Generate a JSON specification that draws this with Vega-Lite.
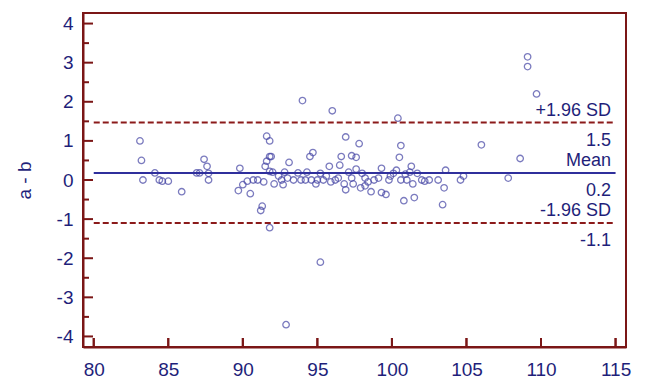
{
  "$schema": "https://vega.github.io/schema/vega-lite/v6.json",
  "width": 543,
  "height": 334,
  "autosize": {"type": "none"},
  "padding": {"left": 83, "top": 13, "right": 20, "bottom": 35},
  "background": "white",
  "config": {
    "view": {"stroke": "#7b1616", "strokeWidth": 2},
    "font": "Liberation Sans",
    "axis": {"grid": false, "ticks": false, "domainColor": "#7b1616", "domainWidth": 2, "labelColor": "#1f1f7a", "labelFont": "Liberation Sans", "labelFontSize": 19, "titleFont": "Liberation Sans", "titleFontSize": 19, "titleColor": "#1f1f7a", "titleFontWeight": "normal"}
  },
  "datasets": {
    "pts": [
      {"a":83.1,"d":1.0},{"a":83.2,"d":0.5},{"a":83.3,"d":0.0},{"a":84.1,"d":0.18},{"a":84.4,"d":0.0},{"a":84.6,"d":-0.03},{"a":85.0,"d":-0.03},{"a":85.9,"d":-0.3},{"a":86.9,"d":0.18},{"a":87.1,"d":0.18},{"a":87.4,"d":0.53},{"a":87.6,"d":0.35},{"a":87.7,"d":0.17},{"a":87.7,"d":0.0},
      {"a":89.7,"d":-0.27},{"a":89.8,"d":0.3},{"a":90.0,"d":-0.12},{"a":90.3,"d":-0.03},{"a":90.5,"d":-0.35},{"a":90.7,"d":0.0},{"a":91.0,"d":0.0},{"a":91.2,"d":-0.78},{"a":91.3,"d":-0.67},{"a":91.6,"d":1.12},{"a":91.8,"d":1.0},{"a":91.8,"d":-1.22},{"a":91.5,"d":0.35},{"a":91.6,"d":0.48},{"a":91.8,"d":0.6},{"a":91.9,"d":0.6},{"a":91.4,"d":-0.05},{"a":91.8,"d":0.22},{"a":92.1,"d":-0.1},{"a":92.0,"d":0.2},{"a":92.4,"d":0.1},{"a":92.7,"d":-0.12},{"a":92.8,"d":0.2},{"a":93.1,"d":0.45},{"a":92.9,"d":-3.7},{"a":92.6,"d":0.0},
      {"a":93.4,"d":0.0},{"a":93.7,"d":0.18},{"a":93.9,"d":0.0},{"a":94.0,"d":2.03},{"a":94.2,"d":0.0},{"a":94.3,"d":0.2},{"a":94.5,"d":0.6},{"a":94.7,"d":0.7},{"a":94.6,"d":0.0},{"a":95.0,"d":0.0},{"a":95.2,"d":-2.1},{"a":95.2,"d":0.17},{"a":95.4,"d":0.0},{"a":95.6,"d":0.1},{"a":95.8,"d":0.35},{"a":96.0,"d":1.77},{"a":96.2,"d":0.0},{"a":96.5,"d":0.38},{"a":96.6,"d":0.6},{"a":96.9,"d":1.1},{"a":96.9,"d":-0.25},{"a":97.1,"d":0.2},{"a":97.3,"d":0.62},{"a":97.4,"d":-0.1},{"a":97.6,"d":0.58},{"a":97.6,"d":0.28},{"a":97.8,"d":0.93},{"a":97.9,"d":-0.2},{"a":98.0,"d":0.17},{"a":98.2,"d":0.05},{"a":98.6,"d":-0.3},{"a":98.8,"d":0.0},{"a":99.1,"d":0.05},{"a":99.3,"d":0.3},{"a":99.3,"d":-0.32},{"a":99.6,"d":-0.37},{"a":99.8,"d":0.0},{"a":100.1,"d":0.17},{"a":100.4,"d":1.58},{"a":100.5,"d":0.58},{"a":100.6,"d":0.88},{"a":100.6,"d":0.0},{"a":100.8,"d":-0.53},{"a":101.0,"d":0.0},{"a":101.2,"d":0.2},{"a":101.4,"d":-0.1},{"a":101.5,"d":-0.45},{"a":101.7,"d":0.17},{"a":101.3,"d":0.35},{"a":100.3,"d":0.25},{"a":102.0,"d":0.0},{"a":102.5,"d":0.0},{"a":103.1,"d":0.0},{"a":103.5,"d":-0.2},{"a":103.4,"d":-0.63},{"a":103.6,"d":0.25},{"a":104.6,"d":0.0},{"a":104.8,"d":0.1},{"a":106.0,"d":0.9},{"a":107.8,"d":0.05},{"a":108.6,"d":0.55},{"a":109.1,"d":3.15},{"a":109.1,"d":2.9},{"a":109.7,"d":2.2},
      {"a":93.0,"d":0.05},{"a":96.4,"d":0.05},{"a":97.3,"d":0.05},{"a":98.4,"d":-0.05},{"a":99.9,"d":0.1},{"a":100.9,"d":0.15},{"a":102.2,"d":-0.03},{"a":95.9,"d":-0.05},{"a":94.9,"d":-0.1},{"a":96.8,"d":-0.1},{"a":98.2,"d":-0.15}
    ],
    "lines": [
      {"kind":"limit","v":1.47,"top":"+1.96 SD","bottom":"1.5"},
      {"kind":"mean","v":0.18,"top":"Mean","bottom":"0.2"},
      {"kind":"limit","v":-1.1,"top":"-1.96 SD","bottom":"-1.1"}
    ],
    "xticks": [{"xt":80},{"xt":85},{"xt":90},{"xt":95},{"xt":100},{"xt":105},{"xt":110},{"xt":115}],
    "ymajor": [{"t":-4},{"t":-3},{"t":-2},{"t":-1},{"t":0},{"t":1},{"t":2},{"t":3},{"t":4}],
    "yminor": [{"t":-3.5},{"t":-2.5},{"t":-1.5},{"t":-0.5},{"t":0.5},{"t":1.5},{"t":2.5},{"t":3.5}]
  },
  "layer": [
    {
      "data": {"name": "pts"},
      "mark": {"type": "point", "shape": "circle", "filled": false, "size": 42, "strokeWidth": 1.3, "color": "#4444a4"},
      "encoding": {
        "x": {"field": "a", "type": "quantitative", "scale": {"domain": [79.28, 115.7], "nice": false, "zero": false},
          "axis": {"values": [80,85,90,95,100,105,110,115], "labelPadding": 13, "title": null}},
        "y": {"field": "d", "type": "quantitative", "scale": {"domain": [-4.27, 4.27], "nice": false, "zero": false},
          "axis": {"values": [-4,-3,-2,-1,0,1,2,3,4],
            "labelExpr": "replace(datum.label, '\u2212', '-')",
            "labelPadding": 10,
            "title": "a - b", "titleAngle": -90, "titleX": -59, "titleY": 167, "titleAlign": "center", "titleBaseline": "middle"}}
      }
    },
    {
      "data": {"name": "xticks"},
      "mark": {"type": "rule", "color": "#7b1616", "strokeWidth": 2},
      "encoding": {"x": {"field": "xt", "type": "quantitative"}, "y": {"datum": -4.04, "type": "quantitative"}, "y2": {"datum": -4.27}}
    },
    {
      "data": {"name": "xticks"},
      "mark": {"type": "tick", "orient": "vertical", "color": "#7b1616", "thickness": 2, "size": 9, "yOffset": -4.5, "opacity": 1},
      "encoding": {"x": {"field": "xt", "type": "quantitative"}, "y": {"value": {"expr": "height"}}}
    },
    {
      "data": {"name": "ymajor"},
      "mark": {"type": "tick", "orient": "horizontal", "color": "#7b1616", "thickness": 2, "size": 10, "xOffset": 5, "opacity": 1},
      "encoding": {"y": {"field": "t", "type": "quantitative"}, "x": {"datum": 79.28}}
    },
    {
      "data": {"name": "yminor"},
      "mark": {"type": "tick", "orient": "horizontal", "color": "#7b1616", "thickness": 2, "size": 6, "xOffset": 3, "opacity": 1},
      "encoding": {"y": {"field": "t", "type": "quantitative"}, "x": {"datum": 79.28}}
    },
    {
      "data": {"name": "lines"},
      "transform": [{"filter": "datum.kind === 'limit'"}],
      "mark": {"type": "rule", "color": "#8b1a1a", "strokeWidth": 2, "strokeDash": [6, 3]},
      "encoding": {"y": {"field": "v", "type": "quantitative"}, "x": {"datum": 80}, "x2": {"datum": 115}}
    },
    {
      "data": {"name": "lines"},
      "transform": [{"filter": "datum.kind === 'mean'"}],
      "mark": {"type": "rule", "color": "#2f2f9c", "strokeWidth": 2},
      "encoding": {"y": {"field": "v", "type": "quantitative"}, "x": {"datum": 80}, "x2": {"datum": 115}}
    },
    {
      "data": {"name": "lines"},
      "mark": {"type": "text", "align": "right", "baseline": "alphabetic", "dy": -7, "fontSize": 18, "color": "#1f1f7a"},
      "encoding": {"y": {"field": "v", "type": "quantitative"}, "x": {"datum": 114.7}, "text": {"field": "top"}}
    },
    {
      "data": {"name": "lines"},
      "mark": {"type": "text", "align": "right", "baseline": "top", "dy": 9, "fontSize": 18, "color": "#1f1f7a"},
      "encoding": {"y": {"field": "v", "type": "quantitative"}, "x": {"datum": 114.7}, "text": {"field": "bottom"}}
    }
  ]
}
